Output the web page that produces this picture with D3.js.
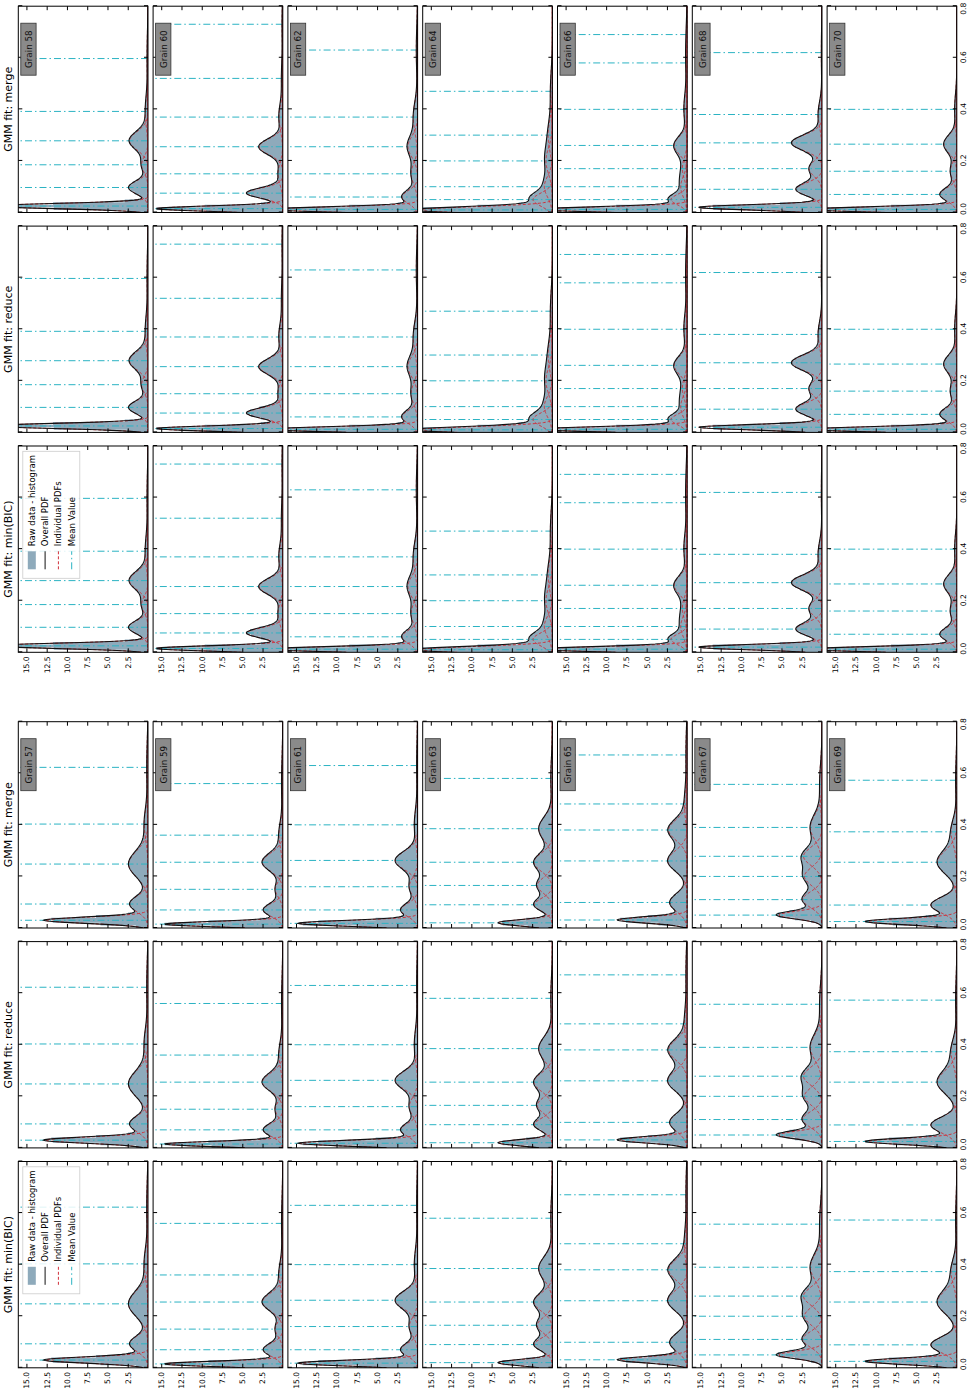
<!DOCTYPE html>
<html>
<head>
<meta charset="utf-8">
<script src="https://cdn.jsdelivr.net/npm/d3@7"></script>
<style>
body { margin: 0; background: #fff; }
text { font-family: "DejaVu Sans", sans-serif; }
</style>
</head>
<body>
<svg id="fig" width="973" height="1395"></svg>
<script>
// grains shown in the two halves of the figure (left half = odd, right half = even)
var grainsLeft = [57, 59, 61, 63, 65, 67, 69];
var grainsRight = [58, 60, 62, 64, 66, 68, 70];
var methods = ["min(BIC)", "reduce", "merge"];
var valueTicks = [0, 0.2, 0.4, 0.6, 0.8];
var densityTicks = [2.5, 5, 7.5, 10, 12.5, 15];
var legendLabels = ["Raw data - histogram", "Overall PDF", "Individual PDFs", "Mean Value"];

// fitted components per grain, [mean, sigma, weight]
var bicFits = {
	57: [[0.030, 0.012, 0.38], [0.093, 0.030, 0.17], [0.248, 0.050, 0.30], [0.403, 0.060, 0.07], [0.623, 0.100, 0.04]],
	59: [[0.015, 0.010, 0.36], [0.070, 0.025, 0.15], [0.150, 0.030, 0.07], [0.255, 0.035, 0.22], [0.360, 0.050, 0.06], [0.560, 0.100, 0.04]],
	61: [[0.018, 0.011, 0.40], [0.070, 0.025, 0.13], [0.160, 0.035, 0.09], [0.262, 0.035, 0.24], [0.400, 0.060, 0.06], [0.630, 0.100, 0.03]],
	63: [[0.020, 0.012, 0.20], [0.090, 0.025, 0.14], [0.165, 0.030, 0.14], [0.255, 0.035, 0.20], [0.385, 0.045, 0.19], [0.580, 0.080, 0.04]],
	65: [[0.031, 0.012, 0.25], [0.099, 0.035, 0.19], [0.260, 0.040, 0.24], [0.380, 0.040, 0.23], [0.481, 0.060, 0.05], [0.671, 0.100, 0.04]],
	67: [[0.050, 0.015, 0.20], [0.110, 0.030, 0.18], [0.200, 0.035, 0.19], [0.278, 0.035, 0.20], [0.390, 0.050, 0.18], [0.557, 0.080, 0.06]],
	69: [[0.025, 0.012, 0.33], [0.089, 0.030, 0.24], [0.255, 0.045, 0.27], [0.373, 0.050, 0.09], [0.573, 0.080, 0.03]],
	58: [[0.025, 0.010, 0.48], [0.097, 0.025, 0.15], [0.185, 0.030, 0.06], [0.278, 0.035, 0.20], [0.392, 0.060, 0.05], [0.597, 0.100, 0.03]],
	60: [[0.015, 0.010, 0.39], [0.075, 0.020, 0.22], [0.150, 0.040, 0.06], [0.255, 0.030, 0.22], [0.370, 0.050, 0.06], [0.520, 0.070, 0.03], [0.730, 0.080, 0.02]],
	62: [[0.012, 0.010, 0.45], [0.060, 0.025, 0.12], [0.150, 0.040, 0.08], [0.255, 0.040, 0.12], [0.370, 0.060, 0.08], [0.630, 0.100, 0.04]],
	64: [[0.010, 0.012, 0.50], [0.050, 0.025, 0.15], [0.100, 0.040, 0.10], [0.200, 0.050, 0.10], [0.300, 0.060, 0.08], [0.470, 0.080, 0.05]],
	66: [[0.012, 0.010, 0.45], [0.050, 0.020, 0.10], [0.100, 0.040, 0.08], [0.170, 0.040, 0.06], [0.260, 0.035, 0.14], [0.400, 0.060, 0.06], [0.580, 0.080, 0.03], [0.690, 0.080, 0.02]],
	68: [[0.020, 0.010, 0.38], [0.090, 0.025, 0.20], [0.170, 0.030, 0.12], [0.270, 0.030, 0.28], [0.380, 0.050, 0.06], [0.620, 0.100, 0.02]],
	70: [[0.012, 0.010, 0.45], [0.070, 0.025, 0.13], [0.160, 0.035, 0.07], [0.265, 0.035, 0.14], [0.400, 0.060, 0.04]]
};
var reduceFits = bicFits;
var mergeFits = bicFits;
var histBinWidth = 0.01;

var histColor = "#8eaabb";
var pdfColor = "#111";
var compColor = "#d0303a";
var meanColor = "#2bb3c3";

// panel geometry, in the unrotated frame (figure is turned a quarter turn)
var PW = 206.3, PH = 129.7;
var halfX0 = [27.2, 742.7];
var methodStep = 219.9;
var rowY0 = 18.3, rowStep = 134.8;

var svg = d3.select("#fig");
var root = svg.append("g").attr("transform", "translate(0,1395) rotate(-90)");

var x = d3.scaleLinear().domain([0, 0.8]).range([0, PW]);
var y = d3.scaleLinear().domain([0, 16.0]).range([PH, 0]);

function gauss(v, c)
{
	var z = (v - c[0]) / c[1];
	return c[2] * Math.exp(-0.5 * z * z) / (c[1] * Math.sqrt(2 * Math.PI));
}
function mix(v, comps)
{
	return d3.sum(comps, function(c) { return gauss(v, c); });
}

var grid = d3.range(0, 0.8001, 0.002);
var edges = d3.range(0, 0.8001, histBinWidth);
var line = d3.line().x(function(d) { return x(d[0]); }).y(function(d) { return y(d[1]); });
var area = d3.area().curve(d3.curveStepAfter)
	.x(function(d) { return x(d[0]); }).y0(y(0)).y1(function(d) { return y(d[1]); });

var clipN = 0;

function drawPanel(half, m, r, grain)
{
	var fits = [bicFits, reduceFits, mergeFits][m][grain];
	var g = root.append("g")
		.attr("transform", "translate(" + (halfX0[half] + m * methodStep) + "," + (rowY0 + r * rowStep) + ")");
	var cid = "clip" + (clipN++);
	g.append("clipPath").attr("id", cid).append("rect").attr("width", PW).attr("height", PH);
	var body = g.append("g").attr("clip-path", "url(#" + cid + ")");

	// histogram of the raw data (same for all three fits)
	var hist = edges.map(function(e) { return [e, mix(e + histBinWidth / 2, bicFits[grain])]; });
	body.append("path").attr("d", area(hist)).attr("fill", histColor).attr("stroke", "none");

	// mean values
	body.selectAll(".mean").data(fits).enter().append("line")
		.attr("x1", function(c) { return x(c[0]); }).attr("x2", function(c) { return x(c[0]); })
		.attr("y1", y(0)).attr("y2", 0)
		.attr("stroke", meanColor).attr("stroke-width", 1)
		.attr("stroke-dasharray", "7,3,1.5,3");

	// individual components
	fits.forEach(function(c) {
		body.append("path").attr("d", line(grid.map(function(v) { return [v, gauss(v, c)]; })))
			.attr("fill", "none").attr("stroke", compColor).attr("stroke-width", 1)
			.attr("stroke-dasharray", "3,2");
	});

	// overall pdf
	body.append("path").attr("d", line(grid.map(function(v) { return [v, mix(v, fits)]; })))
		.attr("fill", "none").attr("stroke", pdfColor).attr("stroke-width", 1.1);

	// axes, ticks pointing inwards on all four sides
	var lastRow = r == 6;
	var firstCol = m == 0;
	var xb = g.append("g").attr("transform", "translate(0," + PH + ")")
		.call(d3.axisBottom(x).tickValues(valueTicks).tickSizeInner(-4).tickSizeOuter(0).tickPadding(4)
			.tickFormat(lastRow ? d3.format(".1f") : function() { return ""; }));
	// end labels nudged inwards so neighbouring panels' labels do not run together
	xb.selectAll(".tick text").attr("x", function(d) { return d == 0 ? 3 : (d == 0.8 ? -3 : 0); });
	g.append("g").call(d3.axisTop(x).tickValues(valueTicks).tickSizeInner(-4).tickSizeOuter(0).tickFormat(""));
	g.append("g")
		.call(d3.axisLeft(y).tickValues(densityTicks).tickSizeInner(-4).tickSizeOuter(0).tickPadding(4)
			.tickFormat(firstCol ? d3.format(".1f") : function() { return ""; }));
	g.append("g").attr("transform", "translate(" + PW + ",0)")
		.call(d3.axisRight(y).tickValues(densityTicks).tickSizeInner(-4).tickSizeOuter(0).tickFormat(""));
	g.selectAll(".domain").remove();
	g.selectAll(".tick line").attr("stroke", "#000");
	g.selectAll(".tick text").attr("font-size", 7.6).attr("fill", "#000").style("font-family", "DejaVu Sans");

	g.append("rect").attr("width", PW).attr("height", PH)
		.attr("fill", "none").attr("stroke", "#000").attr("stroke-width", 1);

	if (r == 0)
	{
		g.append("text").attr("x", PW / 2).attr("y", -6).attr("text-anchor", "middle")
			.attr("font-size", 11).text("GMM fit: " + methods[m]);
	}
	if (m == 2)
	{
		var lb = g.append("g").attr("transform", "translate(" + (PW - 69) + ",2.5)");
		lb.append("rect").attr("width", 52).attr("height", 15.3)
			.attr("fill", "#8a8a8a").attr("stroke", "#333").attr("stroke-width", 0.8);
		lb.append("text").attr("x", 26).attr("y", 11).attr("text-anchor", "middle")
			.attr("font-size", 8.8).attr("fill", "#111").text("Grain " + grain);
	}
	if (r == 0 && m == 0)
	{
		var lg = g.append("g").attr("transform", "translate(74,4.5)");
		lg.append("rect").attr("width", 127).attr("height", 57)
			.attr("fill", "#fff").attr("fill-opacity", 0.85).attr("stroke", "#ccc").attr("stroke-width", 0.8);
		legendLabels.forEach(function(t, i) {
			var yy = 9 + i * 13.3;
			if (i == 0) {
				lg.append("rect").attr("x", 9).attr("y", yy - 4).attr("width", 18).attr("height", 8).attr("fill", histColor);
			} else {
				lg.append("line").attr("x1", 9).attr("x2", 27).attr("y1", yy).attr("y2", yy)
					.attr("stroke", [pdfColor, compColor, meanColor][i - 1]).attr("stroke-width", 1)
					.attr("stroke-dasharray", ["none", "3,2", "7,3,1.5,3"][i - 1]);
			}
			lg.append("text").attr("x", 32).attr("y", yy + 3).attr("font-size", 8.5).text(t);
		});
	}
}

grainsLeft.forEach(function(gr, r) {
	for (var m = 0; m < 3; m++) drawPanel(0, m, r, gr);
});
grainsRight.forEach(function(gr, r) {
	for (var m = 0; m < 3; m++) drawPanel(1, m, r, gr);
});
</script>
</body>
</html>
